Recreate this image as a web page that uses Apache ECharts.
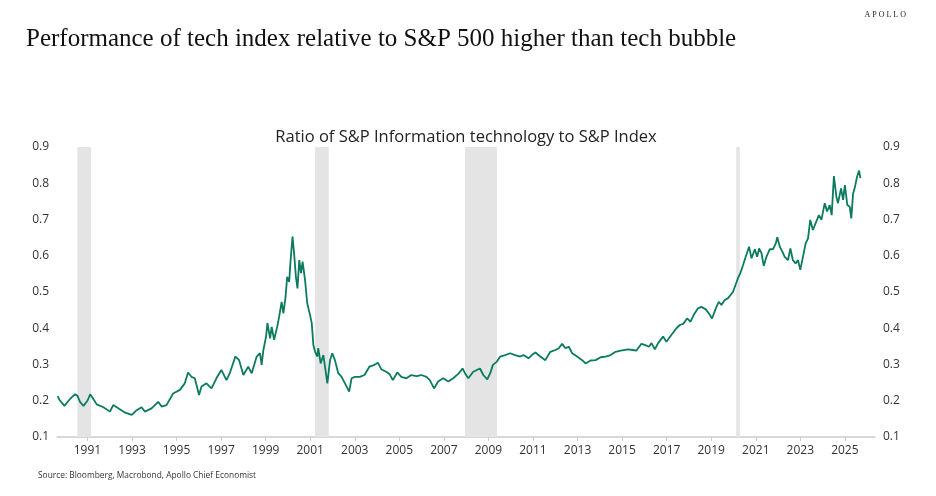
<!DOCTYPE html>
<html>
<head>
<meta charset="utf-8">
<script src="https://cdn.jsdelivr.net/npm/echarts@6/dist/echarts.min.js"></script>
<style>
  html, body { margin: 0; padding: 0; background: #fff; }
  #chart { width: 936px; height: 496px; }
</style>
</head>
<body>
<div id="chart"></div>
<script>
// dates and ratio values
var dates = [
  '1989-09-01','1989-10-01','1989-12-20','1990-02-25','1990-04-20','1990-06-15','1990-07-20','1990-09-01','1990-10-28',
  '1991-01-01','1991-02-15','1991-04-01','1991-06-01','1991-09-20','1992-01-05','1992-02-28','1992-05-22','1992-09-10','1992-12-28',
  '1993-03-18','1993-06-06','1993-08-01','1993-11-17','1994-03-06','1994-05-01','1994-07-20','1994-11-06',
  '1995-02-25','1995-05-16','1995-07-09','1995-09-02','1995-10-27','1996-01-05','1996-02-14','1996-05-05','1996-07-27','1996-10-16',
  '1997-01-05','1997-03-30','1997-05-23','1997-08-22','1997-10-23','1998-01-01','1998-03-21','1998-05-18','1998-08-07','1998-10-01',
  '1998-10-27','1998-11-25','1999-01-08','1999-01-30','1999-03-15','1999-04-10','1999-05-20','1999-07-09','1999-08-11','1999-09-20',
  '1999-10-19','1999-11-24','1999-12-20','2000-01-22','2000-02-14','2000-03-17','2000-04-16','2000-05-11','2000-06-06','2000-07-05',
  '2000-08-03','2000-08-29','2000-10-08','2000-11-13','2000-12-28','2001-01-26','2001-02-21','2001-03-22','2001-04-27','2001-05-12',
  '2001-06-21','2001-08-04','2001-10-09','2001-11-22','2001-12-28','2002-02-10','2002-04-05','2002-05-30','2002-07-24','2002-10-01',
  '2002-11-10','2003-01-05','2003-03-25','2003-06-10','2003-08-29','2003-11-21','2004-01-15','2004-03-10','2004-05-30','2004-07-23',
  '2004-09-16','2004-11-28','2005-02-03','2005-04-27','2005-07-16','2005-10-08','2005-12-28','2006-03-22','2006-05-16','2006-07-24',
  '2006-09-28','2006-12-20','2007-03-15','2007-06-03','2007-08-25','2007-11-03','2007-12-13','2008-02-06','2008-04-27','2008-08-15',
  '2008-10-09','2008-12-13','2009-01-30','2009-03-15','2009-05-20','2009-07-13','2009-10-01','2009-12-24','2010-03-15','2010-06-06',
  '2010-07-31','2010-10-19','2010-12-13','2011-02-10','2011-05-01','2011-07-23','2011-10-12','2012-01-05','2012-02-28','2012-04-23',
  '2012-06-17','2012-08-11','2012-10-05','2012-12-24','2013-03-18','2013-05-12','2013-08-04','2013-10-23','2014-01-15','2014-04-05',
  '2014-06-28','2014-09-16','2014-12-09','2015-04-08','2015-06-28','2015-08-22','2015-11-14','2016-01-08','2016-03-18','2016-04-27',
  '2016-06-21','2016-08-15','2016-11-03','2016-12-28','2017-03-22','2017-06-10','2017-08-04','2017-09-28','2017-12-02','2018-01-27',
  '2018-03-22','2018-05-30','2018-07-24','2018-10-05','2018-12-09','2019-01-15','2019-03-28','2019-05-05','2019-06-17','2019-08-11',
  '2019-10-05','2019-12-24','2020-03-15','2020-04-23','2020-06-06','2020-07-20','2020-09-13','2020-10-23','2020-12-17','2021-01-23',
  '2021-02-25','2021-04-05','2021-05-12','2021-06-25','2021-08-19','2021-10-12','2021-11-25','2021-12-20','2022-01-30','2022-03-25',
  '2022-04-20','2022-06-13','2022-07-23','2022-09-01','2022-10-16','2022-11-25','2023-01-01','2023-02-14','2023-03-30','2023-05-08',
  '2023-06-13','2023-07-27','2023-09-20','2023-11-03','2023-12-13','2024-02-06','2024-03-15','2024-04-27','2024-05-30','2024-07-05',
  '2024-08-15','2024-09-10','2024-10-31','2024-12-03','2025-01-01','2025-02-10','2025-03-22','2025-04-16','2025-05-16','2025-06-10',
  '2025-07-20','2025-08-22','2025-09-12'
];
var ratio = [
  0.213,0.202,0.186,0.200,0.210,0.218,0.214,0.197,0.186,
  0.200,0.218,0.207,0.190,0.182,0.170,0.188,0.179,0.167,0.161,
  0.174,0.182,0.170,0.179,0.197,0.184,0.188,0.220,
  0.230,0.248,0.278,0.266,0.262,0.216,0.239,0.248,0.234,0.262,
  0.285,0.257,0.276,0.322,0.312,0.271,0.294,0.276,0.322,0.331,
  0.299,0.340,0.377,0.414,0.372,0.404,0.368,0.404,0.432,0.473,
  0.441,0.487,0.542,0.528,0.588,0.653,0.597,0.542,0.510,0.588,
  0.552,0.584,0.533,0.469,0.437,0.414,0.354,0.335,0.322,0.345,
  0.303,0.326,0.248,0.312,0.331,0.312,0.276,0.266,0.248,0.225,
  0.262,0.266,0.266,0.271,0.294,0.299,0.305,0.287,0.280,0.274,
  0.257,0.278,0.266,0.262,0.271,0.268,0.271,0.266,0.257,0.234,
  0.253,0.262,0.253,0.262,0.274,0.289,0.276,0.262,0.280,0.289,
  0.271,0.259,0.276,0.299,0.308,0.322,0.326,0.331,0.326,0.322,
  0.326,0.317,0.326,0.333,0.322,0.312,0.335,0.340,0.345,0.357,
  0.345,0.349,0.331,0.322,0.312,0.303,0.311,0.312,0.320,0.322,
  0.326,0.335,0.338,0.342,0.340,0.338,0.357,0.354,0.349,0.359,
  0.342,0.359,0.377,0.363,0.382,0.400,0.409,0.412,0.427,0.418,
  0.437,0.455,0.459,0.452,0.437,0.427,0.459,0.473,0.464,0.478,
  0.483,0.500,0.538,0.552,0.574,0.597,0.625,0.593,0.618,0.597,
  0.620,0.607,0.572,0.597,0.618,0.618,0.634,0.651,0.625,0.607,
  0.597,0.588,0.620,0.588,0.579,0.588,0.561,0.597,0.634,0.648,
  0.699,0.671,0.694,0.712,0.699,0.745,0.722,0.740,0.712,0.820,
  0.763,0.745,0.786,0.754,0.795,0.740,0.735,0.703,0.772,0.786,
  0.818,0.835,0.814
];
// US recessions (shaded)
var recessionStart = ['1990-07-20', '2001-03-20', '2007-12-15', '2020-02-15'];
var recessionEnd   = ['1991-03-01', '2001-11-01', '2009-05-20', '2020-04-15'];
var yearLabels = [1991, 1993, 1995, 1997, 1999, 2001, 2003, 2005, 2007, 2009, 2011, 2013,
  2015, 2017, 2019, 2021, 2023, 2025];

var chart = echarts.init(document.getElementById('chart'));

function ts(s) { return Date.parse(s); }
var yearTicks = yearLabels.map(function (y) { return ts(y + '-01-01'); });
var lineData = dates.map(function (d, i) { return [ts(d), ratio[i]]; });
var shaded = recessionStart.map(function (s, i) { return [{ xAxis: ts(s) }, { xAxis: ts(recessionEnd[i]) }]; });

var axisText = { color: '#333', fontSize: 12, fontFamily: 'Open Sans' };

var yAxisBase = {
  type: 'value',
  min: 0.1,
  max: 0.9,
  interval: 0.1,
  splitLine: { show: false },
  axisLine: { show: false },
  axisTick: { show: false },
  axisLabel: Object.assign({
    formatter: function (v) { return v.toFixed(1); }
  }, axisText)
};

var option = {
  animation: false,
  backgroundColor: '#fff',
  title: [{
    text: 'Performance of tech index relative to S&P 500 higher than tech bubble',
    left: 21,
    top: 22,
    textStyle: { fontFamily: 'Liberation Serif', fontWeight: 'normal', fontSize: 25, color: '#111' }
  }, {
    text: 'Ratio of S&P Information technology to S&P Index',
    left: 461,
    textAlign: 'center',
    top: 124,
    textStyle: { fontFamily: 'Open Sans', fontWeight: 'normal', fontSize: 16.5, color: '#222' }
  }],
  graphic: [{
    type: 'text',
    right: 30,
    top: 11,
    style: { text: 'A P O L L O', fontFamily: 'Liberation Serif', fontSize: 8, fill: '#222' }
  }, {
    type: 'text',
    left: 38,
    top: 472,
    style: { text: 'Source: Bloomberg, Macrobond, Apollo Chief Economist', fontFamily: 'Open Sans', fontSize: 8.4, fill: '#333' }
  }],
  grid: { left: 57, right: 61, top: 147, bottom: 59, containLabel: false },
  xAxis: {
    type: 'value',
    min: ts('1989-08-20'),
    max: ts('2026-05-10'),
    splitLine: { show: false },
    axisLine: { lineStyle: { color: '#cccccc', width: 1.5 } },
    axisTick: { show: true, customValues: yearTicks, length: 4, lineStyle: { color: '#cccccc' } },
    axisLabel: Object.assign({
      customValues: yearTicks,
      margin: 8,
      formatter: function (v) { return String(new Date(v).getUTCFullYear()); }
    }, axisText)
  },
  yAxis: [
    Object.assign({ position: 'left' }, yAxisBase),
    Object.assign({ position: 'right' }, yAxisBase)
  ],
  series: [{
    name: 'Recession',
    type: 'line',
    data: [],
    z: 1,
    markArea: {
      silent: true,
      itemStyle: { color: '#e3e4e3' },
      data: shaded
    }
  }, {
    name: 'Ratio',
    type: 'line',
    data: lineData,
    z: 3,
    showSymbol: false,
    symbol: 'none',
    lineStyle: { color: '#0a7b5e', width: 1.8 }
  }]
};

chart.setOption(option);
</script>
</body>
</html>
